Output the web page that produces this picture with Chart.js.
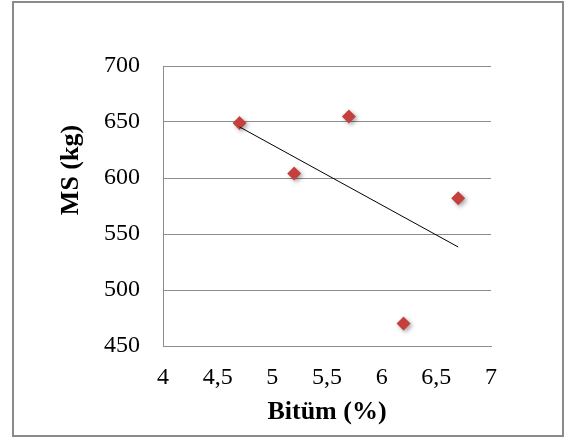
<!DOCTYPE html>
<html lang="tr">
<head>
    <meta charset="UTF-8">
    <title>MS - Bitüm</title>
    <script src="https://cdn.jsdelivr.net/npm/chart.js"></script>
    <style>
        body { margin: 0; background: #fff; }
        .frame { position: relative; width: 569px; height: 437px; }
        .frame .border {
            position: absolute; left: 12px; top: 1px; width: 552px; height: 436px;
            border: 2px solid #8a8a8a; box-sizing: border-box;
        }
        canvas { position: absolute; left: 0; top: 0; }
    </style>
</head>
<body>
    <div class="frame">
        <div class="border"></div>
        <canvas id="msChart" width="569" height="437"></canvas>
    </div>

    <script>
        // data
        const bitumen = [4.7, 5.2, 5.7, 6.2, 6.7];
        const msValues = [649, 604, 655, 470, 582];
        const xTicks = [4, 4.5, 5, 5.5, 6, 6.5, 7];
        const yTicks = [450, 500, 550, 600, 650, 700];

        // linear trendline (least squares), like the spreadsheet one
        const n = bitumen.length;
        const mx = bitumen.reduce((a, b) => a + b, 0) / n;
        const my = msValues.reduce((a, b) => a + b, 0) / n;
        let sxy = 0, sxx = 0;
        for (let i = 0; i < n; i++) {
            sxy += (bitumen[i] - mx) * (msValues[i] - my);
            sxx += (bitumen[i] - mx) * (bitumen[i] - mx);
        }
        const slope = sxy / sxx;
        const intercept = my - slope * mx;
        const xMin = Math.min(...bitumen), xMax = Math.max(...bitumen);
        const trend = [
            { x: xMin, y: intercept + slope * xMin },
            { x: xMax, y: intercept + slope * xMax }
        ];

        const gridGray = '#8c8c8c';
        const serif = "'Liberation Serif', 'Times New Roman', serif";
        const commaNum = v => String(v).replace('.', ',');

        const markerShadow = {
            id: 'markerShadow',
            beforeDatasetDraw(chart, args) {
                if (args.index !== 0) return;
                const ctx = chart.ctx;
                ctx.save();
                ctx.shadowColor = 'rgba(0,0,0,0.35)';
                ctx.shadowBlur = 4;
                ctx.shadowOffsetX = 2;
                ctx.shadowOffsetY = 2;
            },
            afterDatasetDraw(chart, args) {
                if (args.index === 0) chart.ctx.restore();
            }
        };

        const yTitle = {
            id: 'yTitle',
            afterDraw(chart) {
                const ctx = chart.ctx;
                ctx.save();
                ctx.translate(71, 170);
                ctx.rotate(-Math.PI / 2);
                ctx.font = 'bold 26px ' + serif;
                ctx.fillStyle = '#000';
                ctx.textAlign = 'center';
                ctx.textBaseline = 'middle';
                ctx.fillText('MS (kg)', 0, 0);
                ctx.restore();
            }
        };

        new Chart(document.getElementById('msChart'), {
            type: 'scatter',
            data: {
                datasets: [{
                    label: 'MS',
                    data: bitumen.map((x, i) => ({ x: x, y: msValues[i] })),
                    pointStyle: 'rectRot',
                    pointRadius: 7,
                    backgroundColor: '#c4403c',
                    borderWidth: 0,
                    order: 1
                }, {
                    type: 'line',
                    label: 'Trend',
                    data: trend,
                    borderColor: '#000',
                    borderWidth: 1,
                    pointRadius: 0,
                    fill: false,
                    order: 0
                }]
            },
            options: {
                responsive: false,
                animation: false,
                devicePixelRatio: 1,
                layout: { padding: { top: 66, right: 78, left: 0, bottom: 0 } },
                plugins: { legend: { display: false }, tooltip: { enabled: false } },
                scales: {
                    x: {
                        type: 'linear',
                        min: xTicks[0],
                        max: xTicks[xTicks.length - 1],
                        afterBuildTicks: s => { s.ticks = xTicks.map(v => ({ value: v })); },
                        afterFit: s => { s.height = 91; },
                        ticks: {
                            color: '#000',
                            font: { family: serif, size: 24 },
                            padding: 17,
                            maxRotation: 0,
                            callback: v => commaNum(v)
                        },
                        grid: { display: false, drawTicks: false },
                        border: { display: true, color: gridGray, width: 1 },
                        title: {
                            display: true,
                            text: 'Bitüm (%)',
                            color: '#000',
                            font: { family: serif, size: 26, weight: 'bold' },
                            padding: { top: 0, bottom: 9 }
                        }
                    },
                    y: {
                        min: yTicks[0],
                        max: yTicks[yTicks.length - 1],
                        afterBuildTicks: s => { s.ticks = yTicks.map(v => ({ value: v })); },
                        afterFit: s => { s.width = 163; },
                        ticks: {
                            color: '#000',
                            font: { family: serif, size: 24 },
                            padding: 23
                        },
                        grid: { color: gridGray, lineWidth: 1, drawTicks: false },
                        border: { display: true, color: gridGray, width: 1 }
                    }
                }
            },
            plugins: [markerShadow, yTitle]
        });
    </script>
</body>
</html>
